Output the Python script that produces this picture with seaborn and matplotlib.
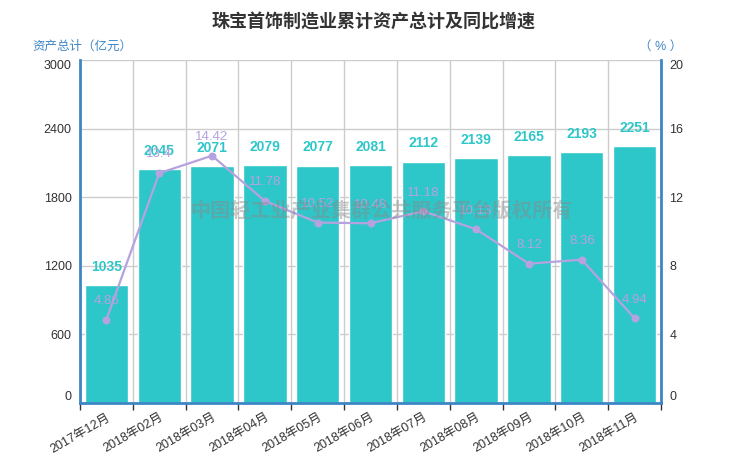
import matplotlib
matplotlib.use("Agg")
import numpy as np
import pandas as pd
import matplotlib.pyplot as plt
import seaborn as sns

months = ['2017年12月', '2018年02月', '2018年03月', '2018年04月', '2018年05月', '2018年06月',
          '2018年07月', '2018年08月', '2018年09月', '2018年10月', '2018年11月']
assets = [1035, 2045, 2071, 2079, 2077, 2081, 2112, 2139, 2165, 2193, 2251]
growth = [4.86, 13.4, 14.42, 11.78, 10.52, 10.48, 11.18, 10.13, 8.12, 8.36, 4.94]
left_ticks = [0, 600, 1200, 1800, 2400, 3000]
right_ticks = [0, 4, 8, 12, 16, 20]

df = pd.DataFrame({'月份': months, '资产总计': assets, '同比增速': growth})

sns.set_theme(style='white')
plt.rcParams['font.family'] = ['Liberation Sans', 'Noto Sans CJK SC', 'DejaVu Sans']

bar_color = '#2ec7c9'
line_color = '#b6a2de'
axis_color = '#3d86c6'
text_color = '#333333'

fig = plt.figure(figsize=(7.4, 4.62), dpi=100)
ax = fig.add_axes([80 / 740, 1 - 403 / 462, 581 / 740, 343 / 462])

sns.barplot(data=df, x='月份', y='资产总计', color=bar_color, width=0.82,
            saturation=1, ax=ax, zorder=2)
ax.set_xlim(-0.5, len(months) - 0.5)
ax.set_ylim(0, 3000)
ax.set_yticks(left_ticks)
ax.set_xlabel('')
ax.set_ylabel('')

# grid: horizontal at value ticks, vertical at category boundaries
ax.set_axisbelow(True)
ax.yaxis.grid(True, color='#cccccc', lw=1)
ax.set_xticks(np.arange(-0.5, len(months)), minor=True)
ax.xaxis.grid(True, which='minor', color='#cccccc', lw=1)
ax.tick_params(axis='x', which='major', length=0, pad=6, labelsize=9, labelcolor=text_color)
ax.tick_params(axis='x', which='minor', length=5, width=1, color='#333333', direction='out', bottom=True)
ax.set_xticks(range(len(months)))
ax.set_xticklabels(months, rotation=30, ha='right', rotation_mode='anchor')
ax.tick_params(axis='y', length=0, pad=6, labelsize=9, labelcolor=text_color)

for sp in ['left', 'bottom']:
    ax.spines[sp].set_color(axis_color)
    ax.spines[sp].set_linewidth(2)
ax.spines['top'].set_visible(False)
ax.spines['right'].set_visible(False)

for i, v in enumerate(assets):
    ax.annotate(str(v), (i, v), xytext=(0, 13), textcoords='offset points',
                ha='center', va='center', fontsize=10, fontweight='bold',
                color=bar_color, zorder=5)

# growth line on right axis
ax2 = ax.twinx()
sns.pointplot(data=df, x='月份', y='同比增速', color=line_color, ax=ax2,
              markers='o', markersize=4.5, linewidth=1.6)
ax2.set_xlim(-0.5, len(months) - 0.5)
ax2.set_ylim(0, 20)
ax2.set_yticks(right_ticks)
ax2.set_ylabel('')
ax2.set_xlabel('')
ax2.tick_params(axis='y', length=0, pad=6, labelsize=9, labelcolor=text_color)
for sp in ['left', 'top', 'bottom']:
    ax2.spines[sp].set_visible(False)
ax2.spines['right'].set_color(axis_color)
ax2.spines['right'].set_linewidth(2)

for i, v in enumerate(growth):
    ax2.annotate(f'{v:g}', (i, v), xytext=(0, 13.5), textcoords='offset points',
                 ha='center', va='center', fontsize=9.5, color=line_color, zorder=5)

# keep end labels inside the axis span
for a in (ax, ax2):
    labels = a.get_yticklabels()
    labels[0].set_va('bottom')
    labels[-1].set_va('top')

fig.text(0.505, 1 - 22 / 462, '珠宝首饰制造业累计资产总计及同比增速', ha='center', va='center',
         fontsize=13, fontweight='bold', color=text_color)
fig.text(32 / 740, 1 - 47 / 462, '资产总计（亿元）', ha='left', va='center',
         fontsize=9, color=axis_color)
fig.text(682 / 740, 1 - 47 / 462, '（ % ）', ha='right', va='center',
         fontsize=9, color=axis_color)
fig.text(381 / 740, 1 - 211 / 462, '中国轻工业产业集群公共服务平台版权所有', ha='center', va='center',
         fontsize=14.5, fontweight='bold', color='#888888', alpha=0.45, zorder=10)

fig.savefig('out.png', dpi=100)
